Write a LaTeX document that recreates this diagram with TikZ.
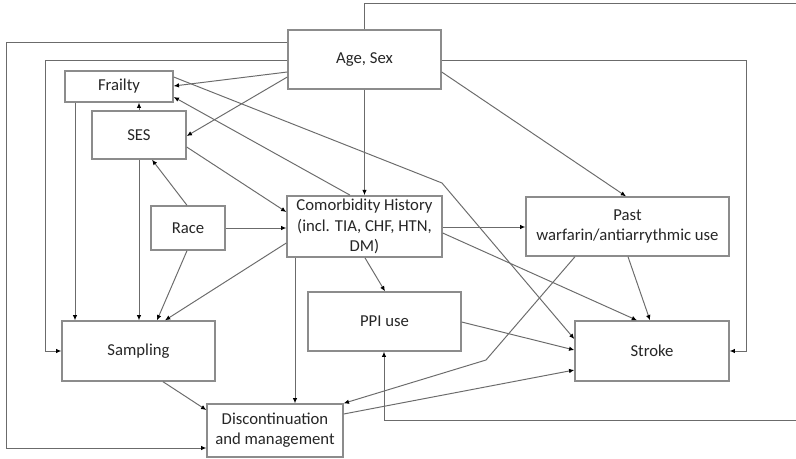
\documentclass[tikz,border=0pt]{standalone}
\usepackage{fontspec}
\setmainfont{Carlito}
\usepackage{tikz}
\usetikzlibrary{arrows.meta,positioning,calc}

\begin{document}
\begin{tikzpicture}[x=0.02cm,y=-0.02cm,
            >={Latex[length=3pt,width=2.6pt,color=black]},
            box/.style={draw=black!45,line width=0.8pt,align=center,inner sep=2pt,
                text=black!85,font=\fontsize{9.5}{11.5}\selectfont},
            link/.style={->,draw=black!58,line width=0.55pt},
            ]
\useasboundingbox (0,0) rectangle (796,458);
\fill[white] (0,0) rectangle (796,458);
\node[box,minimum width=3.06cm,minimum height=1.18cm] (age) at (364.5,59.5) {Age, Sex};
\node[box,minimum width=2.16cm,minimum height=0.62cm] (frailty) at (119,86.5) {Frailty};
\node[box,minimum width=1.88cm,minimum height=0.96cm] (ses) at (139,135) {SES};
\node[box,minimum width=1.48cm,minimum height=0.88cm] (race) at (188,228) {Race};
\node[box,minimum width=3.10cm,minimum height=1.18cm] (comorb) at (364.5,226.5) {Comorbidity History\\(incl. TIA, CHF, HTN,\\DM)};
\node[box,minimum width=4.06cm,minimum height=1.18cm] (past) at (627.5,226.5) {Past\\warfarin/antiarrythmic use};
\node[box,minimum width=3.06cm,minimum height=1.18cm] (ppi) at (384.5,321.5) {PPI use};
\node[box,minimum width=3.06cm,minimum height=1.20cm] (sampling) at (138.5,351) {Sampling};
\node[box,minimum width=2.72cm,minimum height=1.06cm] (disc) at (275,430.5) {Discontinuation\\and management};
\node[box,minimum width=3.08cm,minimum height=1.20cm] (stroke) at (652,351) {Stroke};
% long loops round the outside
\coordinate (topright) at (805,3);
\coordinate (lowright) at (384,420);
\draw[link] (age.north) |- (topright) |- (lowright) -- (ppi.south -| lowright);
\draw[link] (age.west |- 0,42) -| (6,448) -- (disc.west |- 0,448);
\draw[link] (age.west |- 0,60) -| (45,351) -- (sampling.west);
\draw[link] (age.east |- 0,60) -| (746,351) -- (stroke.east);
% from Age, Sex
\draw[link] (age.west |- 0,72) -- (frailty.east |- 0,86);
\draw[link] (age.west |- 0,77) -- (ses.east |- 0,136);
\draw[link] (age.south) -- (comorb.north);
\draw[link] (age.east |- 0,72) -- (past.north -| 626,0);
% frailty, SES, race
\draw[link] (ses.north) -- (frailty.south -| ses.north);
\draw[link] (comorb.north -| 350,0) -- (frailty.east |- 0,97);
\draw[link] (frailty.east |- 0,77) -- (442,183) -- (stroke.west |- 0,339);
\draw[link] (ses.east |- 0,147) -- (comorb.west |- 0,212);
\draw[link] (race.north -| 187,0) -- (ses.south -| 152,0);
\draw[link] (race.east) -- (race.east -| comorb.west);
\draw[link] (frailty.south -| 75,0) -- (sampling.north -| 75,0);
\draw[link] (ses.south) -- (sampling.north -| ses.south);
\draw[link] (race.south -| 187,0) -- (sampling.north -| 157,0);
% from comorbidity
\draw[link] (comorb.west |- 0,243) -- (sampling.north -| 165,0);
\draw[link] (comorb.south -| 295,0) -- (disc.north -| 295,0);
\draw[link] (comorb.south -| 365,0) -- (ppi.north -| 385,0);
\draw[link] (comorb.east |- 0,227) -- (past.west |- 0,227);
\draw[link] (comorb.east |- 0,233) -- (stroke.north -| 637,0);
% to stroke and discontinuation
\draw[link] (past.south -| 628,0) -- (stroke.north -| 650,0);
\draw[link] (past.south -| 575,0) -- (486,360) -- (disc.north east);
\draw[link] (disc.east |- 0,414) -- (stroke.west |- 0,370);
\draw[link] (ppi.east |- 0,322) -- (stroke.west |- 0,350);
\draw[link] (sampling.south -| 163,0) -- (disc.west |- 0,410);
\end{tikzpicture}
\end{document}
